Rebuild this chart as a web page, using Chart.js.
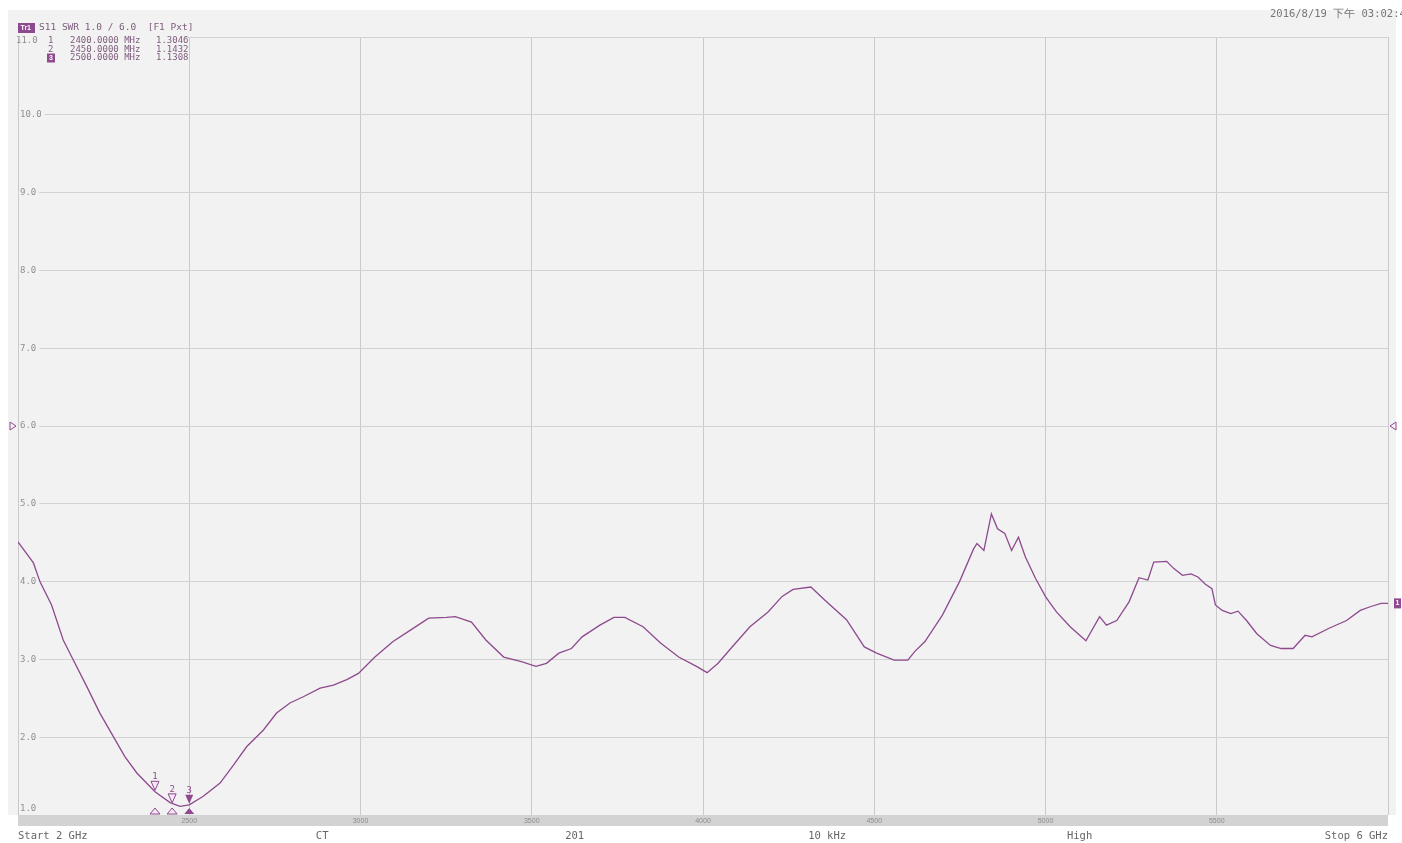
<!DOCTYPE html>
<html>
<head>
<title>S11 SWR</title>
<script src="https://cdn.jsdelivr.net/npm/chart.js@4.4.0/dist/chart.umd.min.js"></script>
<style>
    html, body { margin: 0; padding: 0; background: #fff; overflow: hidden; }
</style>
</head>
<body>
<canvas id="chart" width="1402" height="843"></canvas>
<script>
// trace (MHz, SWR)
const freqMHz = [2000, 2045, 2064, 2098, 2132, 2157, 2201, 2239, 2278, 2312, 2347, 2400, 2444, 2473, 2500,
    2541, 2590, 2629, 2668, 2716, 2755, 2794, 2833, 2882, 2921, 2960, 2994, 3042, 3095, 3147, 3199,
    3251, 3277, 3324, 3366, 3418, 3470, 3512, 3543, 3579, 3616, 3647, 3699, 3740, 3772, 3825, 3876,
    3929, 3981, 4012, 4044, 4085, 4137, 4190, 4231, 4263, 4315, 4356, 4419, 4471, 4507, 4558, 4598,
    4618, 4648, 4699, 4749, 4790, 4800, 4820, 4842, 4860, 4881, 4901, 4921, 4941, 4971, 5001, 5032,
    5072, 5118, 5158, 5178, 5208, 5244, 5273, 5299, 5316, 5354, 5374, 5400, 5425, 5445, 5466, 5486,
    5496, 5516, 5541, 5562, 5587, 5617, 5657, 5688, 5723, 5758, 5778, 5828, 5879, 5919, 5950, 5980, 6000];
const swr = [4.51, 4.24, 4.00, 3.70, 3.25, 3.03, 2.65, 2.31, 2.01, 1.75, 1.54, 1.30, 1.16, 1.11, 1.13,
    1.24, 1.41, 1.64, 1.88, 2.09, 2.31, 2.44, 2.52, 2.63, 2.67, 2.74, 2.82, 3.03, 3.23, 3.38, 3.53,
    3.54, 3.55, 3.48, 3.25, 3.03, 2.97, 2.91, 2.95, 3.08, 3.14, 3.29, 3.44, 3.54, 3.54, 3.42, 3.21,
    3.03, 2.91, 2.83, 2.95, 3.16, 3.42, 3.61, 3.81, 3.90, 3.93, 3.76, 3.51, 3.16, 3.08, 2.99, 2.99,
    3.10, 3.23, 3.57, 4.00, 4.42, 4.49, 4.40, 4.87, 4.68, 4.62, 4.40, 4.57, 4.32, 4.04, 3.80, 3.61,
    3.42, 3.24, 3.55, 3.44, 3.50, 3.74, 4.05, 4.02, 4.25, 4.26, 4.17, 4.08, 4.10, 4.06, 3.97, 3.91,
    3.70, 3.63, 3.59, 3.62, 3.50, 3.33, 3.18, 3.14, 3.14, 3.31, 3.29, 3.40, 3.50, 3.63, 3.68, 3.72, 3.72];

const markerFreq = [2400, 2450, 2500];
const markerSwr = [1.3046, 1.1432, 1.1308];
const markerText = ['1', '2', '3'];

const yLabels = ['1.0', '2.0', '3.0', '4.0', '5.0', '6.0', '7.0', '8.0', '9.0', '10.0'];
const bandLabels = ['2500', '3000', '3500', '4000', '4500', '5000', '5500'];
const footLabels = ['CT', '201', '10 kHz', 'High'];

const PURPLE = '#8e4a8e';
const TEXT_PURPLE = '#7e5c7e';
const FONT = '"Liberation Sans", "DejaVu Sans", sans-serif';
const MONO = '"DejaVu Sans Mono", "Liberation Mono", monospace';

function tri(ctx, x, y, w, h, down, fill) {
    ctx.beginPath();
    if (down) {
        ctx.moveTo(x, y); ctx.lineTo(x - w / 2, y - h); ctx.lineTo(x + w / 2, y - h);
    } else {
        ctx.moveTo(x, y - h); ctx.lineTo(x - w / 2, y); ctx.lineTo(x + w / 2, y);
    }
    ctx.closePath();
    if (fill) { ctx.fillStyle = PURPLE; ctx.fill(); }
    else { ctx.fillStyle = '#f6e6f6'; ctx.fill(); ctx.strokeStyle = PURPLE; ctx.lineWidth = 1; ctx.stroke(); }
}

const vnaDecor = {
    id: 'vnaDecor',
    beforeDraw(chart) {
        const ctx = chart.ctx, a = chart.chartArea;
        ctx.save();
        ctx.fillStyle = '#ffffff';
        ctx.fillRect(0, 0, chart.width, chart.height);
        ctx.fillStyle = '#f2f2f2';
        ctx.fillRect(8, 10, a.right, a.bottom - 10);
        // gray frequency band under the graticule
        ctx.fillStyle = '#d3d3d3';
        ctx.fillRect(a.left, a.bottom, a.right - a.left, 11);
        ctx.restore();
    },
    beforeDatasetsDraw(chart) {
        const ctx = chart.ctx, a = chart.chartArea, xs = chart.scales.x, ys = chart.scales.y;
        ctx.save();
        // header panel hides the top grid line
        ctx.fillStyle = '#f2f2f2';
        ctx.fillRect(a.left - 2, a.top - 2, 168, 4);
        ctx.fillRect(a.left + 1, a.top - 2, 165, 30);
        ctx.font = '9px ' + MONO;
        ctx.textBaseline = 'middle';
        yLabels.forEach(t => {
            let y = ys.getPixelForValue(parseFloat(t));
            if (y > a.bottom - 6) y = a.bottom - 6;
            const w = ctx.measureText(t).width;
            ctx.fillStyle = '#f2f2f2';
            ctx.fillRect(a.left + 1, y - 5, w + 4, 10);
            ctx.fillStyle = '#8f8f8f';
            ctx.fillText(t, a.left + 2, y);
        });
        ctx.font = '7px ' + FONT;
        ctx.textAlign = 'center';
        ctx.fillStyle = '#8c8c8c';
        bandLabels.forEach(t => {
            ctx.fillText(t, xs.getPixelForValue(parseFloat(t)), a.bottom + 6);
        });
        ctx.restore();
    },
    afterDraw(chart) {
        const ctx = chart.ctx, a = chart.chartArea, xs = chart.scales.x, ys = chart.scales.y;
        ctx.save();
        // markers on the trace and on the bottom edge
        markerFreq.forEach((f, i) => {
            const x = xs.getPixelForValue(f), y = ys.getPixelForValue(markerSwr[i]);
            const active = i === markerFreq.length - 1;
            tri(ctx, x, y - 1, 8, 9, true, active);
            ctx.font = '9px ' + MONO;
            ctx.textAlign = 'center';
            ctx.textBaseline = 'bottom';
            ctx.fillStyle = PURPLE;
            ctx.fillText(markerText[i], x, y - 10);
            tri(ctx, x, a.bottom - 1, 10, 6, false, active);
        });
        // reference position arrows at 6.0
        const yr = ys.getPixelForValue(6);
        ctx.strokeStyle = PURPLE; ctx.lineWidth = 1;
        ctx.beginPath(); ctx.moveTo(10, yr - 4); ctx.lineTo(16, yr); ctx.lineTo(10, yr + 4); ctx.closePath(); ctx.stroke();
        ctx.beginPath(); ctx.moveTo(a.right + 8, yr - 4); ctx.lineTo(a.right + 2, yr); ctx.lineTo(a.right + 8, yr + 4); ctx.closePath(); ctx.stroke();
        // trace end tag
        const ye = ys.getPixelForValue(swr[swr.length - 1]);
        ctx.fillStyle = PURPLE;
        ctx.fillRect(a.right + 6, ye - 5, 7, 10);
        ctx.fillStyle = '#fff';
        ctx.font = 'bold 7px ' + FONT;
        ctx.textAlign = 'center'; ctx.textBaseline = 'middle';
        ctx.fillText('1', a.right + 9.5, ye);

        // header
        ctx.textAlign = 'left';
        ctx.textBaseline = 'middle';
        ctx.fillStyle = PURPLE;
        ctx.fillRect(18, 23, 17, 10);
        ctx.fillStyle = '#fff';
        ctx.font = 'bold 7px ' + FONT;
        ctx.fillText('Tr1', 20.5, 28);
        ctx.font = '9.5px ' + MONO;
        ctx.fillStyle = TEXT_PURPLE;
        ctx.fillText('S11 SWR 1.0 / 6.0  [F1 Pxt]', 39, 28);
        ctx.fillStyle = '#8f8f8f';
        ctx.font = '9px ' + MONO;
        ctx.fillText('11.0', 16, 41);
        markerFreq.forEach((f, i) => {
            const y = 41 + i * 8.5;
            ctx.font = '9px ' + MONO;
            if (i === markerFreq.length - 1) {
                ctx.fillStyle = PURPLE;
                ctx.fillRect(47, y - 4.5, 8, 9);
                ctx.fillStyle = '#fff';
                ctx.font = 'bold 7px ' + FONT;
                ctx.fillText(markerText[i], 49, y);
                ctx.font = '9px ' + MONO;
            } else {
                ctx.fillStyle = TEXT_PURPLE;
                ctx.fillText(markerText[i], 48, y);
            }
            ctx.fillStyle = TEXT_PURPLE;
            ctx.fillText(f.toFixed(4) + ' MHz', 70, y);
            ctx.fillText(markerSwr[i].toFixed(4), 156, y);
        });
        ctx.fillStyle = '#777';
        ctx.font = '10.5px ' + MONO;
        ctx.fillText('2016/8/19 下午 03:02:46', 1270, 14);

        // footer
        ctx.fillStyle = '#666';
        ctx.font = '10.5px ' + MONO;
        ctx.textBaseline = 'middle';
        ctx.fillText('Start 2 GHz', a.left, 836);
        ctx.textAlign = 'right';
        ctx.fillText('Stop 6 GHz', a.right, 836);
        ctx.textAlign = 'center';
        const w = a.right - a.left;
        footLabels.forEach((t, i) => {
            ctx.fillText(t, a.left + w * (0.222 + i * 0.1843), 836);
        });
        ctx.restore();
    }
};

const ctx = document.getElementById('chart').getContext('2d');
new Chart(ctx, {
    type: 'line',
    data: {
        datasets: [{
            data: freqMHz.map((f, i) => ({ x: f, y: swr[i] })),
            borderColor: PURPLE,
            borderWidth: 1.3,
            pointRadius: 0,
            tension: 0,
            fill: false
        }]
    },
    options: {
        responsive: false,
        animation: false,
        layout: { padding: { left: 18, right: 14, top: 37, bottom: 28 } },
        plugins: { legend: { display: false }, tooltip: { enabled: false } },
        scales: {
            x: {
                type: 'linear', min: 2000, max: 6000,
                ticks: { display: false, stepSize: 500 },
                grid: { color: '#c9c9c9', lineWidth: 1, drawTicks: false },
                border: { display: false }
            },
            y: {
                min: 1, max: 11,
                ticks: { display: false, stepSize: 1 },
                grid: { color: '#d2d2d2', lineWidth: 1, drawTicks: false },
                border: { display: false }
            }
        }
    },
    plugins: [vnaDecor]
});
</script>
</body>
</html>
